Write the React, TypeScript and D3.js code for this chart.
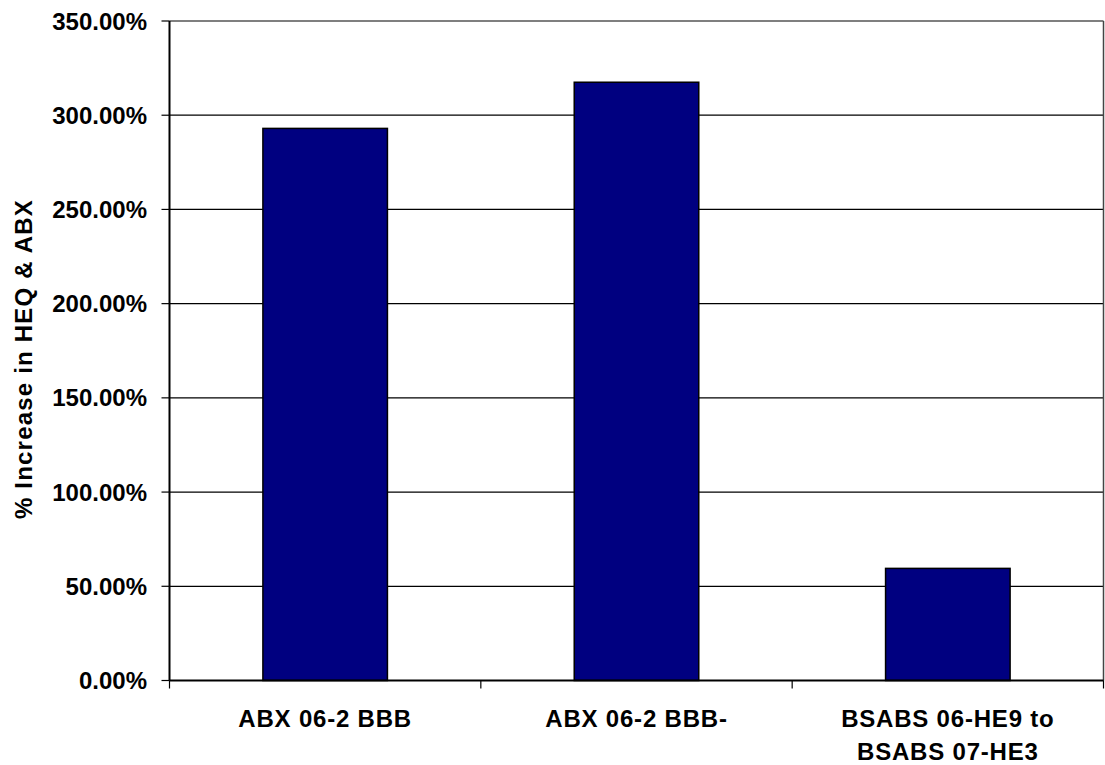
import React from "react";
import * as d3 from "d3";

const categories: string[][] = [
  ["ABX 06-2 BBB"],
  ["ABX 06-2 BBB-"],
  ["BSABS 06-HE9 to", "BSABS 07-HE3"],
];
const values: number[] = [2.93, 3.175, 0.595];
const yTicks: number[] = [0, 0.5, 1, 1.5, 2, 2.5, 3, 3.5];
const yTitle = "% Increase in HEQ & ABX";

const W = 1105;
const H = 765;
const left = 169.5;
const right = 1103.5;
const top = 21;
const bottom = 680.5;
const FONT = "'Liberation Sans', Arial, sans-serif";

export default function App() {
  const keys = categories.map((c) => c.join(" "));
  const x = d3
    .scaleBand<string>()
    .domain(keys)
    .range([left, right])
    .paddingInner(0.6)
    .paddingOuter(0.3);
  const y = d3.scaleLinear().domain([0, 3.5]).range([bottom, top]);
  const step = (right - left) / categories.length;
  const fmt = (v: number) => (v * 100).toFixed(2) + "%";

  return (
    <svg
      width={W}
      height={H}
      style={{ position: "absolute", left: 0, top: 0, background: "#fff" }}
    >
      {yTicks.map((t) => (
        <line
          key={"g" + t}
          x1={left}
          x2={right}
          y1={y(t)}
          y2={y(t)}
          stroke="#000"
          strokeWidth={1.2}
        />
      ))}
      <line x1={right} x2={right} y1={top} y2={bottom} stroke="#444" strokeWidth={1.5} />
      {values.map((v, i) => (
        <rect
          key={"b" + i}
          x={x(keys[i])!}
          y={y(v)}
          width={x.bandwidth()}
          height={y(0) - y(v)}
          fill="#000080"
          stroke="#000"
          strokeWidth={1.5}
        />
      ))}
      <line x1={left} x2={left} y1={top} y2={bottom} stroke="#000" strokeWidth={2} />
      <line x1={left} x2={right} y1={bottom} y2={bottom} stroke="#000" strokeWidth={2} />
      {yTicks.map((t) => (
        <g key={"t" + t}>
          <line x1={left - 8} x2={left} y1={y(t)} y2={y(t)} stroke="#000" strokeWidth={1.2} />
          <text
            x={147}
            y={y(t)}
            textAnchor="end"
            dominantBaseline="central"
            fontFamily={FONT}
            fontWeight="bold"
            fontSize={24}
            fill="#000"
          >
            {fmt(t)}
          </text>
        </g>
      ))}
      {d3.range(categories.length + 1).map((i) => (
        <line
          key={"xt" + i}
          x1={left + i * step}
          x2={left + i * step}
          y1={bottom}
          y2={bottom + 8}
          stroke="#000"
          strokeWidth={1.2}
        />
      ))}
      {categories.map((lines, i) => (
        <text
          key={"c" + i}
          x={x(keys[i])! + x.bandwidth() / 2}
          textAnchor="middle"
          fontFamily={FONT}
          fontWeight="bold"
          fontSize={24}
          letterSpacing={0.8}
          fill="#000"
        >
          {lines.map((l, j) => (
            <tspan key={j} x={x(keys[i])! + x.bandwidth() / 2} y={727 + j * 33}>
              {l}
            </tspan>
          ))}
        </text>
      ))}
      <text
        transform={`translate(32, 359) rotate(-90)`}
        textAnchor="middle"
        fontFamily={FONT}
        fontWeight="bold"
        fontSize={24}
        letterSpacing={1.2}
        fill="#000"
      >
        {yTitle}
      </text>
    </svg>
  );
}
